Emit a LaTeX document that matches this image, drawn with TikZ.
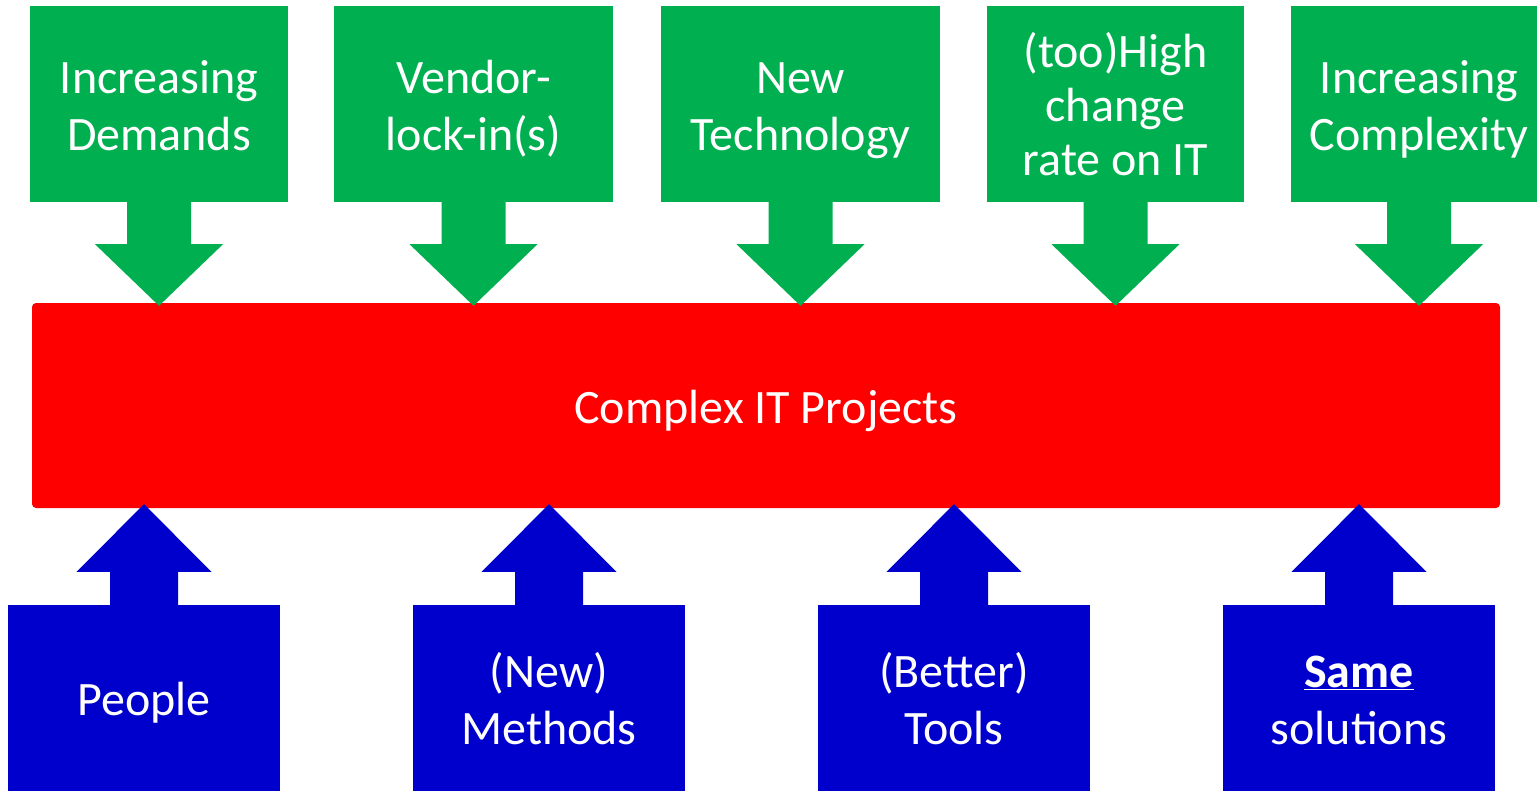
\documentclass[tikz,border=0pt]{standalone}
\usepackage{fontspec}
\setmainfont{Carlito}
\usetikzlibrary{calc}
\definecolor{forcegreen}{HTML}{00B050}
\definecolor{coreRed}{HTML}{FF0000}
\definecolor{answerblue}{HTML}{0000CC}
% fixed ascent for the first line of every label
\newcommand{\topstrut}{\rule{0pt}{49pt}}
\begin{document}
\begin{tikzpicture}[x=1pt,y=-1pt,
  label txt/.style={text=white,font=\fontsize{48}{57}\selectfont,align=center,inner sep=0pt,text depth=14pt},
  forcebox/.style={label txt,fill=forcegreen,minimum height=196pt,minimum width=#1},
  answerbox/.style={label txt,fill=answerblue,minimum height=186pt,minimum width=272pt},
  corebar/.style={label txt,fill=coreRed,rounded corners=4pt,minimum width=1468pt,minimum height=205pt}]
\useasboundingbox (0,0) rectangle (1537,790);

% central bar
\node[corebar] (bar) at (766,405.5) {\topstrut Complex IT Projects};

% forces pushing down
\node[forcebox=258pt] (g1) at (159,104)    {\topstrut Increasing\\Demands};
\node[forcebox=279pt] (g2) at (473.5,104)  {\topstrut Vendor-\\lock-in(s)};
\node[forcebox=279pt] (g3) at (800.5,104)  {\topstrut New\\Technology};
\node[forcebox=257pt,font=\fontsize{48}{54}\selectfont] (g4) at (1115.5,104) {\topstrut (too)High\\change\\rate on IT};
\node[forcebox=256pt] (g5) at (1419,104)   {\topstrut Increasing\\Complexity};

% responses pushing up
\node[answerbox] (b1) at (144,698) {\topstrut People};
\node[answerbox] (b2) at (549,698) {\topstrut (New)\\Methods};
\node[answerbox] (b3) at (954,698) {\topstrut (Better)\\Tools};
\node[answerbox] (b4) at (1359,698) {\topstrut\underline{\textbf{Same}}\\solutions};

% block arrows from the forces into the bar
\foreach \g in {g1,g2,g3,g4,g5}{
  \fill[forcegreen] ($(\g.south)+(-32,-1)$) -- ($(\g.south)+(-32,42)$)
    -- ($(\g.south)+(-64,42)$) -- ($(\g.south |- bar.north)+(0,3)$)
    -- ($(\g.south)+(64,42)$) -- ($(\g.south)+(32,42)$)
    -- ($(\g.south)+(32,-1)$) -- cycle;
}

% block arrows from the responses into the bar
\foreach \b in {b1,b2,b3,b4}{
  \fill[answerblue] ($(\b.north)+(-34,1)$) -- ($(\b.north)+(-34,-33)$)
    -- ($(\b.north)+(-67.5,-33)$) -- ($(\b.north |- bar.south)+(0,-4)$)
    -- ($(\b.north)+(67.5,-33)$) -- ($(\b.north)+(34,-33)$)
    -- ($(\b.north)+(34,1)$) -- cycle;
}
\end{tikzpicture}
\end{document}
